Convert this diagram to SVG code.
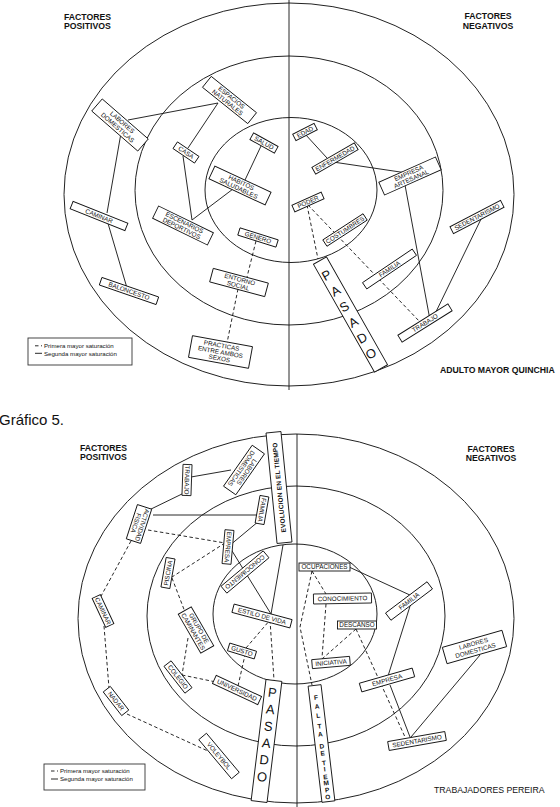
<svg xmlns="http://www.w3.org/2000/svg" width="560" height="807" viewBox="0 0 560 807">
<style>
.ring{fill:none;stroke:#222;stroke-width:1}
.box rect{fill:#fff;stroke:#111;stroke-width:0.9}
.s{stroke:#111;stroke-width:0.9;fill:none}
.d{stroke:#111;stroke-width:0.9;stroke-dasharray:3.5 2.5;fill:none}
.lb{font-family:"Liberation Sans",Arial,sans-serif;font-size:6.3px;text-anchor:middle;fill:#111}
.ttl{font-family:"Liberation Sans",Arial,sans-serif;font-size:8.7px;font-weight:bold;fill:#111}
.ttc{font-family:"Liberation Sans",Arial,sans-serif;font-size:8.7px;font-weight:bold;fill:#111;text-anchor:middle}
.big{font-family:"Liberation Sans",Arial,sans-serif;font-size:13px;text-anchor:middle;fill:#111}
.sm{font-family:"Liberation Sans",Arial,sans-serif;font-size:6.5px;font-weight:bold;text-anchor:middle;fill:#111}
.lg{font-family:"Liberation Sans",Arial,sans-serif;font-size:6.1px;fill:#111}
</style>
<rect width="560" height="807" fill="#fff"/>

<!-- ===== TOP DIAGRAM ===== -->
<g id="top-frame">
<ellipse class="ring" cx="289" cy="194.5" rx="225" ry="191.5"/>
<ellipse class="ring" cx="289" cy="190.5" rx="154" ry="134.5"/>
<ellipse class="ring" cx="291" cy="190" rx="86" ry="72.5"/>
<line class="s" x1="289" y1="0" x2="289" y2="390"/>
</g>
<g id="top-titles">
<text class="ttl" x="64" y="19.5">FACTORES</text>
<text class="ttl" x="64" y="29">POSITIVOS</text>
<text class="ttc" x="488" y="19">FACTORES</text>
<text class="ttc" x="488" y="28.5">NEGATIVOS</text>
<text class="ttl" x="440" y="373">ADULTO MAYOR QUINCHIA</text>
</g>
<g id="top-legend">
<rect x="28" y="338" width="104" height="27" fill="#fff" stroke="#333" stroke-width="0.9"/>
<line class="d" x1="35" y1="345.8" x2="42" y2="345.8" stroke-dasharray="1.5 1"/>
<text class="lg" x="44" y="348">Primera mayor saturación</text>
<line class="s" x1="35" y1="353.3" x2="42" y2="353.3"/>
<text class="lg" x="44" y="355.5">Segunda mayor saturación</text>
</g>

<g id="top-connectors">
<line class="s" x1="128" y1="120" x2="218" y2="103"/>
<line class="s" x1="218" y1="103" x2="188" y2="148"/>
<line class="s" x1="121" y1="133" x2="107" y2="213"/>
<line class="s" x1="107" y1="220" x2="127" y2="288"/>
<line class="s" x1="183" y1="156" x2="192" y2="220"/>
<line class="s" x1="233" y1="189" x2="192" y2="220"/>
<line class="s" x1="261" y1="146" x2="245" y2="180"/>
<line class="s" x1="305" y1="134" x2="327" y2="158"/>
<line class="s" x1="333" y1="162" x2="407" y2="173"/>
<line class="s" x1="405" y1="185" x2="430" y2="320"/>
<line class="s" x1="482" y1="217" x2="432" y2="320"/>
<line class="d" x1="256" y1="241" x2="247" y2="277"/>
<line class="d" x1="238" y1="289" x2="227" y2="343"/>
<line class="d" x1="307" y1="205" x2="318" y2="259"/>
<line class="d" x1="308" y1="205" x2="420" y2="322"/>
</g>

<g id="t-labores" class="box" transform="translate(120 125) rotate(41)"><rect x="-30.5" y="-8" width="61" height="16"/><text class="lb" y="-1.3">LABORES</text><text class="lb" y="5.6">DOMESTICAS</text></g>
<g id="t-espacios" class="box" transform="translate(229.5 100) rotate(38.7)"><rect x="-29" y="-7" width="58" height="14"/><text class="lb" y="-1">ESPACIOS</text><text class="lb" y="5.3">NATURALES</text></g>
<g id="t-casa" class="box" transform="translate(186 152.5) rotate(34)"><rect x="-13" y="-4" width="26" height="8"/><text class="lb" y="2.2">CASA</text></g>
<g id="t-salud" class="box" transform="translate(264 143) rotate(29)"><rect x="-14" y="-3.8" width="28" height="7.6"/><text class="lb" y="2.2">SALUD</text></g>
<g id="t-habitos" class="box" transform="translate(240 185.5) rotate(25)"><rect x="-31" y="-7" width="62" height="14"/><text class="lb" y="-1">HABITOS</text><text class="lb" y="5.3">SALUDABLES</text></g>
<g id="t-escenarios" class="box" transform="translate(183 225.5) rotate(26)"><rect x="-30.5" y="-6.8" width="61" height="13.6"/><text class="lb" y="-1">ESCENARIOS</text><text class="lb" y="5.3">DEPORTIVOS</text></g>
<g id="t-genero" class="box" transform="translate(258 237.5) rotate(17.5)"><rect x="-20" y="-3.8" width="40" height="7.6"/><text class="lb" y="2.2">GENERO</text></g>
<g id="t-entorno" class="box" transform="translate(239 282.5) rotate(15)"><rect x="-28.5" y="-7" width="57" height="14"/><text class="lb" y="-1">ENTORNO</text><text class="lb" y="5.3">SOCIAL</text></g>
<g id="t-practicas" class="box" transform="translate(220.5 352) rotate(10.4)"><rect x="-30.5" y="-11" width="61" height="22"/><text class="lb" y="-4.3">PRACTICAS</text><text class="lb" y="2.2">ENTRE AMBOS</text><text class="lb" y="8.7">SEXOS</text></g>
<g id="t-caminar" class="box" transform="translate(99 216) rotate(21.8)"><rect x="-29.5" y="-4" width="59" height="8"/><text class="lb" y="2.2">CAMINAR</text></g>
<g id="t-baloncesto" class="box" transform="translate(129 291) rotate(19)"><rect x="-30" y="-4" width="60" height="8"/><text class="lb" y="2.2">BALONCESTO</text></g>
<g id="t-edad" class="box" transform="translate(305 132) rotate(-27)"><rect x="-12" y="-3.6" width="24" height="7.2"/><text class="lb" y="2.2">EDAD</text></g>
<g id="t-enfermedad" class="box" transform="translate(335 158.5) rotate(-30)"><rect x="-24.5" y="-3.8" width="49" height="7.6"/><text class="lb" y="2.2">ENFERMEDAD</text></g>
<g id="t-empresa-artesanal" class="box" transform="translate(410 176) rotate(-24)"><rect x="-31" y="-7" width="62" height="14"/><text class="lb" y="-1">EMPRESA</text><text class="lb" y="5.3">ARTESANAL</text></g>
<g id="t-poder" class="box" transform="translate(308 202) rotate(-24)"><rect x="-16" y="-3.6" width="32" height="7.2"/><text class="lb" y="2.2">PODER</text></g>
<g id="t-costumbres" class="box" transform="translate(345 230) rotate(-33)"><rect x="-24" y="-3.8" width="48" height="7.6"/><text class="lb" y="2.2">COSTUMBRES</text></g>
<g id="t-familia" class="box" transform="translate(389.5 269) rotate(-34)"><rect x="-30" y="-3.8" width="60" height="7.6"/><text class="lb" y="2.2">FAMILIA</text></g>
<g id="t-trabajo" class="box" transform="translate(425 323) rotate(-32)"><rect x="-29.5" y="-4" width="59" height="8"/><text class="lb" y="2.2">TRABAJO</text></g>
<g id="t-sedentarismo" class="box" transform="translate(477 217) rotate(-27.5)"><rect x="-28.5" y="-3.8" width="57" height="7.6"/><text class="lb" y="2.2">SEDENTARISMO</text></g>
<g id="t-pasado" class="box" transform="translate(350.5 314.5) rotate(-29.5)"><rect x="-7.5" y="-62" width="15" height="124"/>
<text class="big" x="-1.5" y="-41.4">P</text><text class="big" x="-1.5" y="-23.4">A</text><text class="big" x="-1.5" y="-5.4">S</text><text class="big" x="-1.5" y="12.6">A</text><text class="big" x="-1.5" y="30.6">D</text><text class="big" x="-1.5" y="48.6">O</text></g>

<!-- ===== BOTTOM DIAGRAM ===== -->
<text x="-1" y="425" font-family="Liberation Sans, Arial, sans-serif" font-size="15" fill="#111">Gráfico 5.</text>
<g id="bottom-frame">
<ellipse class="ring" cx="296" cy="618.5" rx="218" ry="184.5"/>
<ellipse class="ring" cx="296" cy="616" rx="149" ry="130"/>
<ellipse class="ring" cx="295" cy="614" rx="82" ry="70"/>
<line class="s" x1="297" y1="434" x2="297" y2="807"/>
</g>
<g id="bottom-titles">
<text class="ttl" x="80" y="451">FACTORES</text>
<text class="ttl" x="80" y="460">POSITIVOS</text>
<text class="ttc" x="491" y="452">FACTORES</text>
<text class="ttc" x="491" y="461">NEGATIVOS</text>
<text x="434" y="793" font-family="Liberation Sans, Arial, sans-serif" font-size="8.7" fill="#111">TRABAJADORES PEREIRA</text>
</g>
<g id="bottom-legend">
<rect x="44" y="764" width="101" height="26" fill="#fff" stroke="#333" stroke-width="0.9"/>
<line class="d" x1="51" y1="771" x2="58" y2="771" stroke-dasharray="1.5 1"/>
<text class="lg" x="60" y="773">Primera mayor saturación</text>
<line class="s" x1="51" y1="779" x2="58" y2="779"/>
<text class="lg" x="60" y="781">Segunda mayor saturación</text>
</g>

<g id="bottom-connectors">
<line class="s" x1="191" y1="477" x2="231" y2="470"/>
<line class="s" x1="147" y1="511" x2="184" y2="493"/>
<line class="s" x1="153" y1="515" x2="258" y2="515"/>
<line class="s" x1="259" y1="521" x2="229" y2="546"/>
<line class="s" x1="229" y1="546" x2="271" y2="614"/>
<line class="s" x1="283" y1="545" x2="271" y2="614"/>
<line class="s" x1="349" y1="567" x2="412" y2="596"/>
<line class="s" x1="411" y1="603" x2="388" y2="676"/>
<line class="s" x1="390" y1="685" x2="410" y2="737"/>
<line class="s" x1="480" y1="655" x2="411" y2="737"/>
<line class="d" x1="148" y1="530" x2="225" y2="543"/>
<line class="d" x1="225" y1="543" x2="172" y2="577"/>
<line class="d" x1="131" y1="541" x2="100" y2="598"/>
<line class="d" x1="172" y1="578" x2="185" y2="612"/>
<line class="d" x1="188" y1="638" x2="182" y2="675"/>
<line class="d" x1="182" y1="675" x2="216" y2="682"/>
<line class="d" x1="238" y1="686" x2="245" y2="655"/>
<line class="d" x1="246" y1="648" x2="270" y2="620"/>
<line class="d" x1="270" y1="620" x2="274" y2="680"/>
<line class="d" x1="104" y1="626" x2="109" y2="688"/>
<line class="d" x1="127" y1="714" x2="210" y2="752"/>
<polyline class="d" points="312,571 300,627 312,685"/>
<line class="d" x1="312" y1="571" x2="326" y2="594"/>
<line class="d" x1="326" y1="604" x2="322" y2="658"/>
<line class="d" x1="356" y1="629" x2="322" y2="659"/>
<line class="d" x1="356" y1="629" x2="405" y2="737"/>
</g>

<g id="b-evolucion" class="box" transform="translate(279 487.5) rotate(-95.7)"><rect x="-55.5" y="-7.5" width="111" height="15"/><text class="sm" y="2.4" font-size="7" letter-spacing="0.2">EVOLUCION EN EL TIEMPO</text></g>
<g id="b-labores" class="box" transform="translate(244 470) rotate(125)"><rect x="-25" y="-7.5" width="50" height="15"/><text class="lb" y="-1.2">LABORES</text><text class="lb" y="5.3">DOMESTICAS</text></g>
<g id="b-trabajo" class="box" transform="translate(187 480) rotate(92)"><rect x="-15.5" y="-4.5" width="31" height="9"/><text class="lb" y="2.2">TRABAJO</text></g>
<g id="b-actividad" class="box" transform="translate(139 524) rotate(108)"><rect x="-18" y="-7.5" width="36" height="15"/><text class="lb" y="-1.2">ACTIVIDAD</text><text class="lb" y="5.3">FISICA</text></g>
<g id="b-familia-1" class="box" transform="translate(262 510) rotate(100)"><rect x="-14" y="-4.5" width="28" height="9"/><text class="lb" y="2.2">FAMILIA</text></g>
<g id="b-empresa-1" class="box" transform="translate(228 547) rotate(95)"><rect x="-17" y="-4.5" width="34" height="9"/><text class="lb" y="2.2">EMPRESA</text></g>
<g id="b-piscina" class="box" transform="translate(168 573) rotate(-80)"><rect x="-15" y="-4.5" width="30" height="9"/><text class="lb" y="2.2">PISCINA</text></g>
<g id="b-conocimiento-1" class="box" transform="translate(245 572) rotate(140)"><rect x="-27.5" y="-4.5" width="55" height="9"/><text class="lb" y="2.2">CONOCIMIENTO</text></g>
<g id="b-estilo" class="box" transform="translate(262 616) rotate(15)"><rect x="-30" y="-4.3" width="60" height="8.6"/><text class="lb" y="2.2">ESTILO DE VIDA</text></g>
<g id="b-grupo" class="box" transform="translate(196 630) rotate(60)"><rect x="-22.5" y="-7.5" width="45" height="15"/><text class="lb" y="-1.2">GRUPO DE</text><text class="lb" y="5.3">CAMINANTES</text></g>
<g id="b-caminar" class="box" transform="translate(103 611) rotate(65)"><rect x="-16" y="-4.5" width="32" height="9"/><text class="lb" y="2.2">CAMINAR</text></g>
<g id="b-gusto" class="box" transform="translate(242 651) rotate(17)"><rect x="-14" y="-4" width="28" height="8"/><text class="lb" y="2.2">GUSTO</text></g>
<g id="b-colegio" class="box" transform="translate(178 677) rotate(52)"><rect x="-17" y="-4.5" width="34" height="9"/><text class="lb" y="2.2">COLEGIO</text></g>
<g id="b-universidad" class="box" transform="translate(237 690) rotate(25)"><rect x="-25" y="-4.5" width="50" height="9"/><text class="lb" y="2.2">UNIVERSIDAD</text></g>
<g id="b-nadar" class="box" transform="translate(116 701) rotate(52)"><rect x="-15" y="-4.5" width="30" height="9"/><text class="lb" y="2.2">NADAR</text></g>
<g id="b-voleybol" class="box" transform="translate(219 756) rotate(50)"><rect x="-25.5" y="-5" width="51" height="10"/><text class="lb" y="2.2">VOLEYBOL</text></g>
<g id="b-pasado" class="box" transform="translate(266.5 741) rotate(7)"><rect x="-8" y="-61" width="16" height="122"/>
<text class="big" x="0" y="-44.4">P</text><text class="big" x="0" y="-27.4">A</text><text class="big" x="0" y="-10.4">S</text><text class="big" x="0" y="6.6">A</text><text class="big" x="0" y="23.6">D</text><text class="big" x="0" y="40.6">O</text></g>
<g id="b-ocupaciones" class="box" transform="translate(324.5 567)"><rect x="-25.5" y="-4" width="51" height="8"/><text class="lb" y="2.2">OCUPACIONES</text></g>
<g id="b-conocimiento-2" class="box" transform="translate(342.5 598.5) rotate(-1)"><rect x="-29" y="-5" width="58" height="10"/><text class="lb" y="2.2">CONOCIMIENTO</text></g>
<g id="b-descanso" class="box" transform="translate(357 625)"><rect x="-19.5" y="-4" width="39" height="8"/><text class="lb" y="2.2">DESCANSO</text></g>
<g id="b-iniciativa" class="box" transform="translate(331 662.5) rotate(-5)"><rect x="-19" y="-4.5" width="38" height="9"/><text class="lb" y="2.2">INICIATIVA</text></g>
<g id="b-familia-2" class="box" transform="translate(409 601) rotate(-37)"><rect x="-26" y="-4.5" width="52" height="9"/><text class="lb" y="2.2">FAMILIA</text></g>
<g id="b-empresa-2" class="box" transform="translate(387 680) rotate(-16)"><rect x="-27.5" y="-4.5" width="55" height="9"/><text class="lb" y="2.2">EMPRESA</text></g>
<g id="b-labores-2" class="box" transform="translate(474.5 647) rotate(-16)"><rect x="-31" y="-8.5" width="62" height="17"/><text class="lb" y="-1.3">LABORES</text><text class="lb" y="5.8">DOMESTICAS</text></g>
<g id="b-sedentarismo" class="box" transform="translate(417 741) rotate(-10)"><rect x="-29" y="-4.5" width="58" height="9"/><text class="lb" y="2.2">SEDENTARISMO</text></g>
<g id="b-falta" class="box" transform="translate(321.5 743.5) rotate(-6.8)"><rect x="-6.5" y="-58.5" width="13" height="117"/>
<text class="sm" y="-44">F</text><text class="sm" y="-35">A</text><text class="sm" y="-26">L</text><text class="sm" y="-15">T</text><text class="sm" y="-7">A</text><text class="sm" y="5">D</text><text class="sm" y="12">E</text><text class="sm" y="22">T</text><text class="sm" y="28">I</text><text class="sm" y="36">E</text><text class="sm" y="42">M</text><text class="sm" y="49">P</text><text class="sm" y="56">O</text></g>
</svg>
